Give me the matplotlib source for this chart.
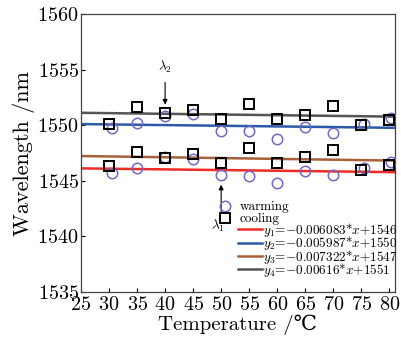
import matplotlib
matplotlib.use("Agg")
import matplotlib.pyplot as plt
import numpy as np

plt.rcParams['font.family'] = ['cmr10', 'DejaVu Serif']
plt.rcParams['mathtext.fontset'] = 'cm'
plt.rcParams['axes.formatter.use_mathtext'] = True

# measured points (temperature in C, wavelength in nm)
t_warm = [30.6, 35, 40, 45, 50, 55, 60, 65, 70, 75.5, 80.3]
t_cool = [30, 35, 40, 45, 50, 55, 60, 65, 70, 75, 80]
warm_low = [1545.73, 1546.12, 1547.11, 1546.93, 1545.52, 1545.43, 1544.83, 1545.91, 1545.52, 1546.12, 1546.72]
warm_high = [1549.72, 1550.23, 1550.83, 1551.03, 1549.50, 1549.48, 1548.73, 1549.87, 1549.33, 1550.10, 1550.62]
cool_low = [1546.36, 1547.62, 1547.02, 1547.38, 1546.57, 1547.92, 1546.57, 1547.17, 1547.77, 1545.97, 1546.42]
cool_high = [1550.10, 1551.66, 1551.07, 1551.37, 1550.56, 1551.90, 1550.60, 1550.95, 1551.75, 1550.05, 1550.47]

# linear fits: slope, intercept (as drawn)
fit_slopes = [-0.006083, -0.005987, -0.007322, -0.00616]
fit_icepts = [1546.27, 1550.25, 1547.41, 1551.27]
fit_labels = [r'$y_1$=$-$0.006083*$x$+1546', r'$y_2$=$-$0.005987*$x$+1550',
              r'$y_3$=$-$0.007322*$x$+1547', r'$y_4$=$-$0.00616*$x$+1551']
fit_colors = ['#ee2b25', '#2b5aa8', '#a8603a', '#555555']

fig = plt.figure(figsize=(4.02, 3.40), dpi=100)
ax = fig.add_axes([0.2015, 0.1412, 0.781, 0.8176])

xs = np.array([25, 81])
fit_lines = []
for k in range(4):
    ln, = ax.plot(xs, fit_slopes[k]*xs + fit_icepts[k], color=fit_colors[k], lw=1.8,
                  label=fit_labels[k], zorder=2)
    fit_lines.append(ln)

circ_col = '#7468c4'
hw, = ax.plot(t_warm, warm_low, 'o', ms=7.5, mfc='none', mec=circ_col, mew=1.1, zorder=3)
ax.plot(t_warm, warm_high, 'o', ms=7.5, mfc='none', mec=circ_col, mew=1.1, zorder=3)
hc, = ax.plot(t_cool, cool_low, 's', ms=6.8, mfc='none', mec='black', mew=1.4, zorder=4)
ax.plot(t_cool, cool_high, 's', ms=6.8, mfc='none', mec='black', mew=1.4, zorder=4)

# arrows for lambda_1 / lambda_2
ax.annotate('', xy=(40, 1551.6), xytext=(40, 1554.1),
            arrowprops=dict(arrowstyle='-|>', color='black', lw=0.8, mutation_scale=7))
ax.text(40, 1554.5, r'$\lambda_2$', ha='center', va='bottom', fontsize=9.5)
ax.annotate('', xy=(50, 1544.9), xytext=(50, 1541.9),
            arrowprops=dict(arrowstyle='-|>', color='black', lw=0.8, mutation_scale=7))
ax.text(49.4, 1541.7, r'$\lambda_1$', ha='center', va='top', fontsize=9.5)

ax.set_xlim(25, 81)
ax.set_ylim(1535, 1560)
ax.set_xticks(np.arange(25, 81, 5))
ax.set_yticks(np.arange(1535, 1561, 5))
ax.tick_params(direction='in', length=3, labelsize=14.5, top=False, right=False, pad=1.5)
ax.tick_params(axis='x', pad=3)
for s in ax.spines.values():
    s.set_color('#444444')
    s.set_linewidth(0.9)

ax.set_xlabel('Temperature /℃', fontsize=15, labelpad=0)
ax.set_ylabel('Wavelength /nm', fontsize=16, labelpad=2)

# two legends so the row pitch matches
leg1 = ax.legend([hw, hc], ['warming', 'cooling'], loc='upper left',
                 bbox_to_anchor=(0.43, 0.327), frameon=False, fontsize=9.5,
                 handlelength=1.4, handletextpad=0.4, labelspacing=-0.02,
                 borderaxespad=0, borderpad=0)
ax.add_artist(leg1)
ax.legend(fit_lines, fit_labels, loc='upper left',
          bbox_to_anchor=(0.5, 0.255), frameon=False, fontsize=9.5,
          handlelength=1.8, handletextpad=0.1, labelspacing=-0.36,
          borderaxespad=0, borderpad=0)

fig.savefig('out.png', dpi=100)
